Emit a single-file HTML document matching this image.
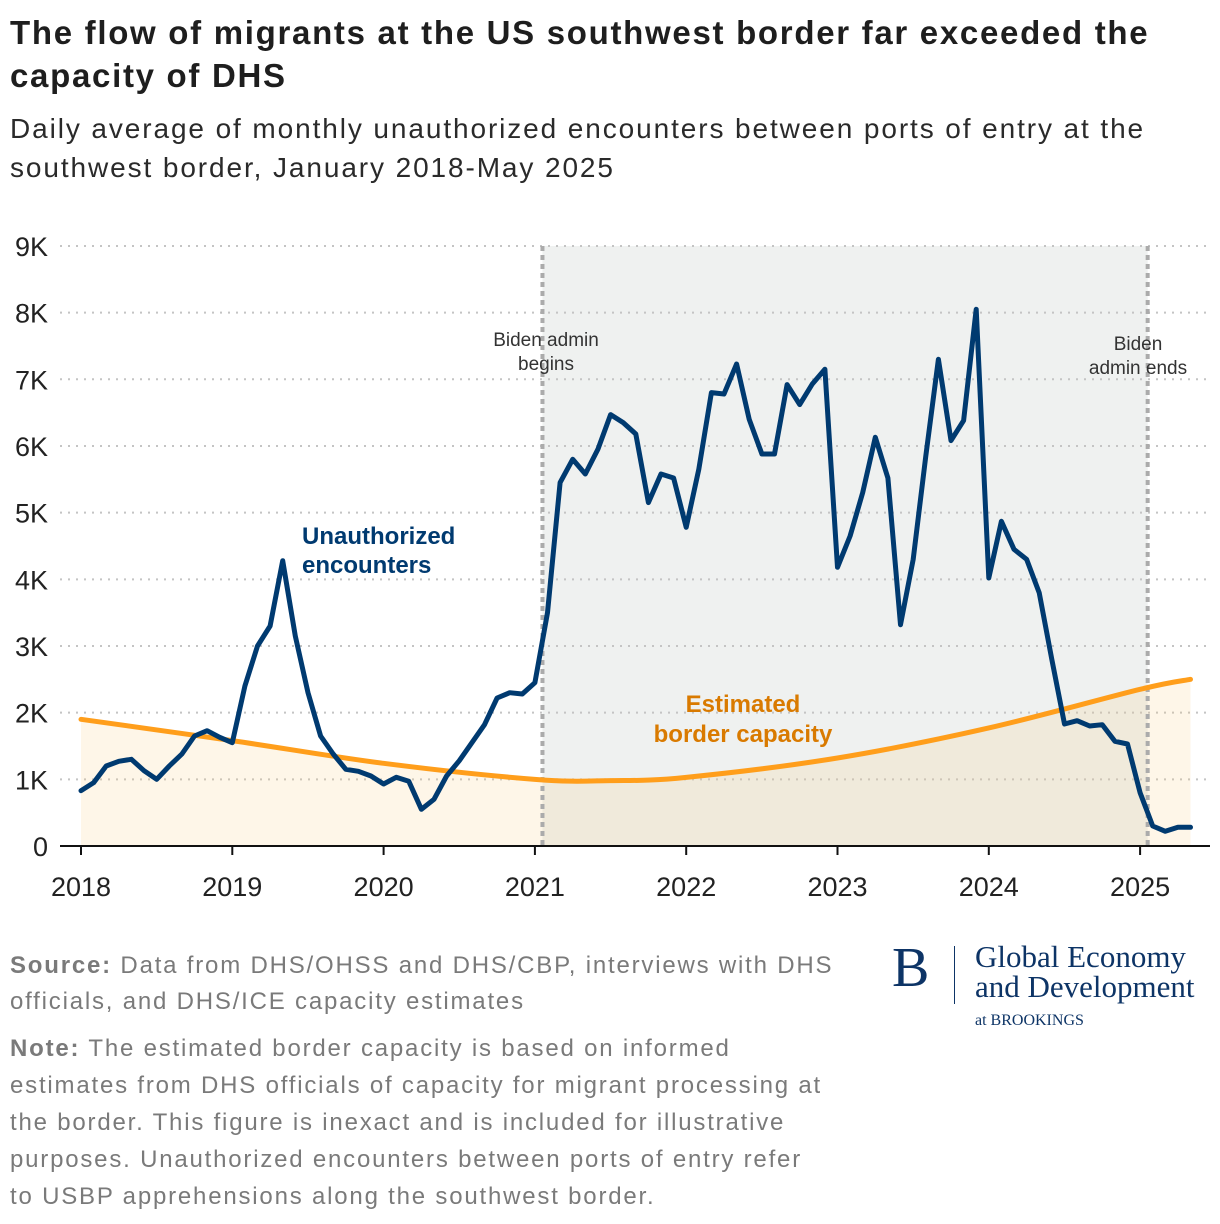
<!DOCTYPE html>
<html><head><meta charset="utf-8"><style>
body{margin:0;background:#fff;width:1220px;height:1224px;overflow:hidden;font-family:"Liberation Sans",sans-serif}
.t{position:absolute;left:10px;white-space:nowrap}
</style></head><body>
<div class="t" style="top:11px;font-size:33px;letter-spacing:1.7px;font-weight:bold;color:#1e1e1e;line-height:43px">The flow of migrants at the US southwest border far exceeded the<br>capacity of DHS</div>
<div class="t" style="top:109px;font-size:28px;letter-spacing:1.9px;color:#2a2a2a;line-height:39px">Daily average of monthly unauthorized encounters between ports of entry at the<br>southwest border, January 2018-May 2025</div>
<svg id="c" width="1220" height="920" style="position:absolute;left:0;top:0"></svg>
<div class="t" style="top:948px;font-size:24px;letter-spacing:1.8px;color:#7a7a7a;line-height:36px"><b>Source:</b> Data from DHS/OHSS and DHS/CBP, interviews with DHS<br>officials, and DHS/ICE capacity estimates</div>
<div class="t" style="top:1030px;font-size:24px;letter-spacing:1.8px;color:#7a7a7a;line-height:37px"><b>Note:</b> The estimated border capacity is based on informed<br>estimates from DHS officials of capacity for migrant processing at<br>the border. This figure is inexact and is included for illustrative<br>purposes. Unauthorized encounters between ports of entry refer<br>to USBP apprehensions along the southwest border.</div>
<div style="position:absolute;left:892px;top:938px;font-family:'Liberation Serif',serif;color:#0d3466">
<div style="position:absolute;left:0;top:-2px;font-size:56px">B</div>
<div style="position:absolute;left:62px;top:8px;width:1px;height:58px;background:#0d3466"></div>
<div style="position:absolute;left:83px;top:4px;font-size:31px;white-space:nowrap;line-height:30px">Global Economy<br>and Development</div>
<div style="position:absolute;left:83px;top:74px;font-size:16px;white-space:nowrap">at BROOKINGS</div>
</div>
<script>
const yTicks=[0,1,2,3,4,5,6,7,8,9];
const yearLabels=[2018,2019,2020,2021,2022,2023,2024,2025];
const encounters=[0.83,0.95,1.2,1.27,1.3,1.13,1.0,1.2,1.38,1.65,1.73,1.63,
1.55,2.4,3.0,3.3,4.28,3.15,2.3,1.65,1.38,1.15,1.12,1.05,
0.93,1.03,0.97,0.55,0.7,1.05,1.28,1.55,1.82,2.22,2.3,2.28,
2.45,3.5,5.45,5.8,5.58,5.95,6.47,6.35,6.18,5.15,5.58,5.52,
4.78,5.65,6.8,6.78,7.23,6.4,5.88,5.88,6.92,6.62,6.93,7.15,
4.18,4.65,5.3,6.13,5.52,3.32,4.3,5.85,7.3,6.08,6.38,8.05,
4.02,4.87,4.45,4.3,3.8,2.8,1.83,1.88,1.8,1.82,1.57,1.53,
0.8,0.3,0.22,0.28,0.28];
const capTimes=[2018,2019,2020,2021,2021.5,2022,2023,2024,2025,2025.333];
const capValues=[1.9,1.58,1.24,1.0,0.98,1.03,1.32,1.77,2.35,2.5];
const bidenStart=2021.05, bidenEnd=2025.05;
const X=t=>81+(t-2018)*151.3, Y=v=>846-v*66.67;
const svg=document.getElementById('c'),NS='http://www.w3.org/2000/svg';
function mk(tag,a,p){const e=document.createElementNS(NS,tag);for(const k in a)e.setAttribute(k,a[k]);(p||svg).appendChild(e);return e;}
let r=mk('rect',{x:X(bidenStart),y:Y(9),width:X(bidenEnd)-X(bidenStart),height:Y(0)-Y(9),fill:'#eff1f0'});


yTicks.forEach(v=>{
 if(v>0){const g=mk('line',{x1:60,x2:1210,y1:Y(v),y2:Y(v),stroke:'#c4c4c4','stroke-width':2,'stroke-dasharray':'2 6'});
 
 }
 const t=mk('text',{x:48,y:Y(v)+10,'text-anchor':'end','font-size':27,fill:'#222'});t.textContent=v?v+'K':'0';
 
 
});
const cp=capTimes.map((t,i)=>[X(t),Y(capValues[i])]);
let d='M'+cp[0][0]+','+cp[0][1];
for(let i=0;i<cp.length-1;i++){const p0=cp[Math.max(0,i-1)],p1=cp[i],p2=cp[i+1],p3=cp[Math.min(cp.length-1,i+2)];
 d+=' C'+(p1[0]+(p2[0]-p0[0])/6)+','+(p1[1]+(p2[1]-p0[1])/6)+' '+(p2[0]-(p3[0]-p1[0])/6)+','+(p2[1]-(p3[1]-p1[1])/6)+' '+p2[0]+','+p2[1];}
const last=cp[cp.length-1];
let f=mk('path',{d:d+' L'+last[0]+','+Y(0)+' L'+cp[0][0]+','+Y(0)+'Z',fill:'rgba(250,200,120,0.17)'});


[bidenStart,bidenEnd].forEach(t=>{const l=mk('line',{x1:X(t),x2:X(t),y1:Y(9),y2:Y(0),stroke:'#ababab','stroke-width':4,'stroke-dasharray':'5 4'});
 
 });
let cl=mk('path',{d:d,fill:'none',stroke:'#ff9e1b','stroke-width':5,'stroke-linecap':'round'});


const pts=encounters.map((v,i)=>X(2018+i/12).toFixed(1)+','+Y(v).toFixed(1)).join(' ');
let el=mk('polyline',{points:pts,fill:'none',stroke:'#003a70','stroke-width':5,'stroke-linejoin':'round','stroke-linecap':'round'});


let ax=mk('line',{x1:60,x2:1210,y1:Y(0),y2:Y(0),stroke:'#111','stroke-width':2});


yearLabels.forEach(y=>{const tk=mk('line',{x1:X(y),x2:X(y),y1:Y(0),y2:Y(0)+9,stroke:'#111','stroke-width':2});
 
 
 const t=mk('text',{x:X(y),y:896,'text-anchor':'middle','font-size':27,fill:'#222'});t.textContent=y;
 
 });
function lab(lines,x,y,sz,col,w,name,lh,anchor){const g=mk('g',{});
 lines.forEach((s,i)=>{const t=mk('text',{x:x,y:y+i*lh,'text-anchor':anchor||'middle','font-size':sz,fill:col,'font-weight':w},g);t.textContent=s;});}
lab(['Biden admin','begins'],546,346,19,'#333','normal','biden-begins-label',24);
lab(['Biden','admin ends'],1138,350,19,'#333','normal','biden-ends-label',24);
lab(['Unauthorized','encounters'],302,544,24,'#003a70','bold','encounters-label',29,'start');
lab(['Estimated','border capacity'],743,712,24,'#d97a00','bold','capacity-label',30);
</script>
</body></html>
